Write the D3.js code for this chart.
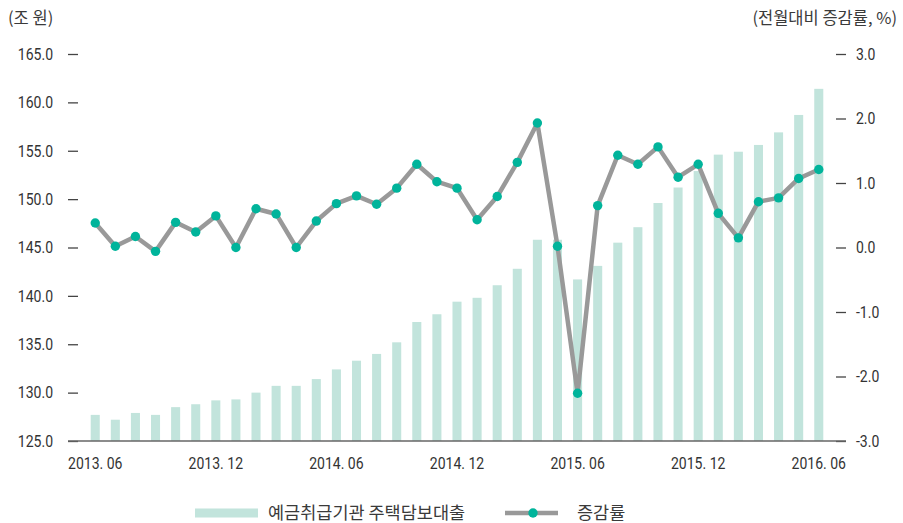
<!DOCTYPE html>
<html>
<head>
<meta charset="utf-8">
<script src="https://cdn.jsdelivr.net/npm/d3@7"></script>
<style>
  body { margin: 0; background: #fff; }
  svg { display: block; }
  .num { font-family: Roboto, "Noto Sans", sans-serif; font-size: 16.5px; fill: #333; }
  .kor { font-family: "Noto Sans CJK KR", "Noto Sans", sans-serif; font-size: 16.5px; fill: #3a3a3a; }
</style>
</head>
<body>
<div id="chart"></div>
<script>
const months = [
  '2013. 06', '2013. 07', '2013. 08', '2013. 09', '2013. 10', '2013. 11', '2013. 12',
  '2014. 01', '2014. 02', '2014. 03', '2014. 04', '2014. 05', '2014. 06',
  '2014. 07', '2014. 08', '2014. 09', '2014. 10', '2014. 11', '2014. 12',
  '2015. 01', '2015. 02', '2015. 03', '2015. 04', '2015. 05', '2015. 06',
  '2015. 07', '2015. 08', '2015. 09', '2015. 10', '2015. 11', '2015. 12',
  '2016. 01', '2016. 02', '2016. 03', '2016. 04', '2016. 05', '2016. 06',
];
// 예금취급기관 주택담보대출 (조 원)
const loanBalance = [
  127.7, 127.2, 127.9, 127.7, 128.5, 128.8, 129.2,
  129.3, 130.0, 130.7, 130.7, 131.4, 132.4,
  133.3, 134.0, 135.2, 137.3, 138.1, 139.4,
  139.8, 141.1, 142.8, 145.8, 145.8, 141.7,
  143.1, 145.5, 147.1, 149.6, 151.2, 152.9,
  154.6, 154.9, 155.6, 156.9, 158.7, 161.4,
];
// 전월대비 증감률 (%)
const changeRate = [
  0.38, 0.02, 0.17, -0.06, 0.39, 0.24, 0.49,
  0.00, 0.60, 0.52, 0.00, 0.41, 0.68,
  0.80, 0.67, 0.92, 1.29, 1.02, 0.92,
  0.43, 0.79, 1.32, 1.93, 0.02, -2.26,
  0.65, 1.43, 1.29, 1.56, 1.09, 1.29,
  0.53, 0.15, 0.71, 0.77, 1.07, 1.21,
];
const xTickLabels = ['2013. 06', '2013. 12', '2014. 06', '2014. 12', '2015. 06', '2015. 12', '2016. 06'];
const leftTicks = [125, 130, 135, 140, 145, 150, 155, 160, 165];
const rightTicks = [-3, -2, -1, 0, 1, 2, 3];
const leftUnit = '(조 원)';
const rightUnit = '(전월대비 증감률, %)';
const legendNames = ['예금취급기관 주택담보대출', '증감률'];

const WIDTH = 903;
const HEIGHT = 523;
const X_LEFT = 68;
const X_RIGHT = 846;
const Y_TOP = 54;
const Y_BOTTOM = 441;
const SQUEEZE = 0.85; // narrow digits like the reference face

const BAR_COLOR = '#c2e4dc';
const LINE_COLOR = '#999999';
const DOT_COLOR = '#00b49b';

const svg = d3.select('#chart').append('svg')
  .attr('width', WIDTH)
  .attr('height', HEIGHT);

const x = d3.scaleBand()
  .domain(months)
  .range([X_LEFT, X_RIGHT])
  .paddingInner(0.55)
  .paddingOuter(1.13);
const yLeft = d3.scaleLinear().domain([125, 165]).range([Y_BOTTOM, Y_TOP]);
const yRight = d3.scaleLinear().domain([-3, 3]).range([Y_BOTTOM, Y_TOP]);

const squeezeText = (sel) => {
  sel.selectAll('text')
    .attr('class', 'num')
    .attr('x', function () { return (+d3.select(this).attr('x') || 0) / SQUEEZE; })
    .attr('transform', `scale(${SQUEEZE},1)`);
};

// bars
svg.append('g')
  .selectAll('rect')
  .data(loanBalance)
  .join('rect')
  .attr('x', (d, i) => x(months[i]))
  .attr('width', x.bandwidth())
  .attr('y', (d) => yLeft(d))
  .attr('height', (d) => Y_BOTTOM - yLeft(d))
  .attr('fill', BAR_COLOR);

// left axis
const leftAxis = svg.append('g')
  .attr('transform', `translate(${X_LEFT},0)`)
  .call(d3.axisLeft(yLeft)
    .tickValues(leftTicks)
    .tickSize(-10)
    .tickPadding(15)
    .tickFormat(d3.format('.1f')));
leftAxis.select('.domain').remove();
leftAxis.selectAll('.tick line').attr('stroke', '#444').attr('stroke-width', 1.3);
squeezeText(leftAxis);

// right axis
const rightAxis = svg.append('g')
  .attr('transform', `translate(${X_RIGHT},0)`)
  .call(d3.axisRight(yRight)
    .tickValues(rightTicks)
    .tickSize(-10)
    .tickPadding(10)
    .tickFormat((d) => d3.format('.1f')(d).replace('\u2212', '-')));
rightAxis.select('.domain').remove();
rightAxis.selectAll('.tick line').attr('stroke', '#444').attr('stroke-width', 1.3);
squeezeText(rightAxis);

// bottom axis
const bottomAxis = svg.append('g')
  .attr('transform', `translate(0,${Y_BOTTOM})`)
  .call(d3.axisBottom(x)
    .tickValues(xTickLabels)
    .tickSize(0)
    .tickPadding(16));
bottomAxis.select('.domain').remove();
squeezeText(bottomAxis);
svg.append('line')
  .attr('x1', X_LEFT)
  .attr('x2', X_RIGHT)
  .attr('y1', Y_BOTTOM)
  .attr('y2', Y_BOTTOM)
  .attr('stroke', '#666')
  .attr('stroke-width', 1.6);

// change rate line
const xMid = (i) => x(months[i]) + x.bandwidth() / 2;
const line = d3.line()
  .x((d, i) => xMid(i))
  .y((d) => yRight(d));
svg.append('path')
  .datum(changeRate)
  .attr('d', line)
  .attr('fill', 'none')
  .attr('stroke', LINE_COLOR)
  .attr('stroke-width', 4.5)
  .attr('stroke-linejoin', 'round');
svg.append('g')
  .selectAll('circle')
  .data(changeRate)
  .join('circle')
  .attr('cx', (d, i) => xMid(i))
  .attr('cy', (d) => yRight(d))
  .attr('r', 4.7)
  .attr('fill', DOT_COLOR);

// units
svg.append('text').attr('class', 'kor')
  .attr('x', 8).attr('y', 24)
  .text(leftUnit);
svg.append('text').attr('class', 'kor')
  .attr('x', 897).attr('y', 24)
  .attr('text-anchor', 'end')
  .text(rightUnit);

// legend
const legend = svg.append('g').attr('transform', 'translate(0,513)');
legend.append('rect')
  .attr('x', 195).attr('y', -4.5)
  .attr('width', 63).attr('height', 9)
  .attr('fill', BAR_COLOR);
legend.append('text').attr('class', 'kor')
  .attr('x', 268).attr('dy', '0.36em')
  .style('font-size', '17.5px')
  .text(legendNames[0]);
legend.append('line')
  .attr('x1', 505).attr('x2', 558)
  .attr('stroke', LINE_COLOR)
  .attr('stroke-width', 4.5);
legend.append('circle')
  .attr('cx', 533).attr('r', 4.7)
  .attr('fill', DOT_COLOR);
legend.append('text').attr('class', 'kor')
  .attr('x', 577).attr('dy', '0.36em')
  .style('font-size', '17.5px')
  .text(legendNames[1]);
</script>
</body>
</html>
